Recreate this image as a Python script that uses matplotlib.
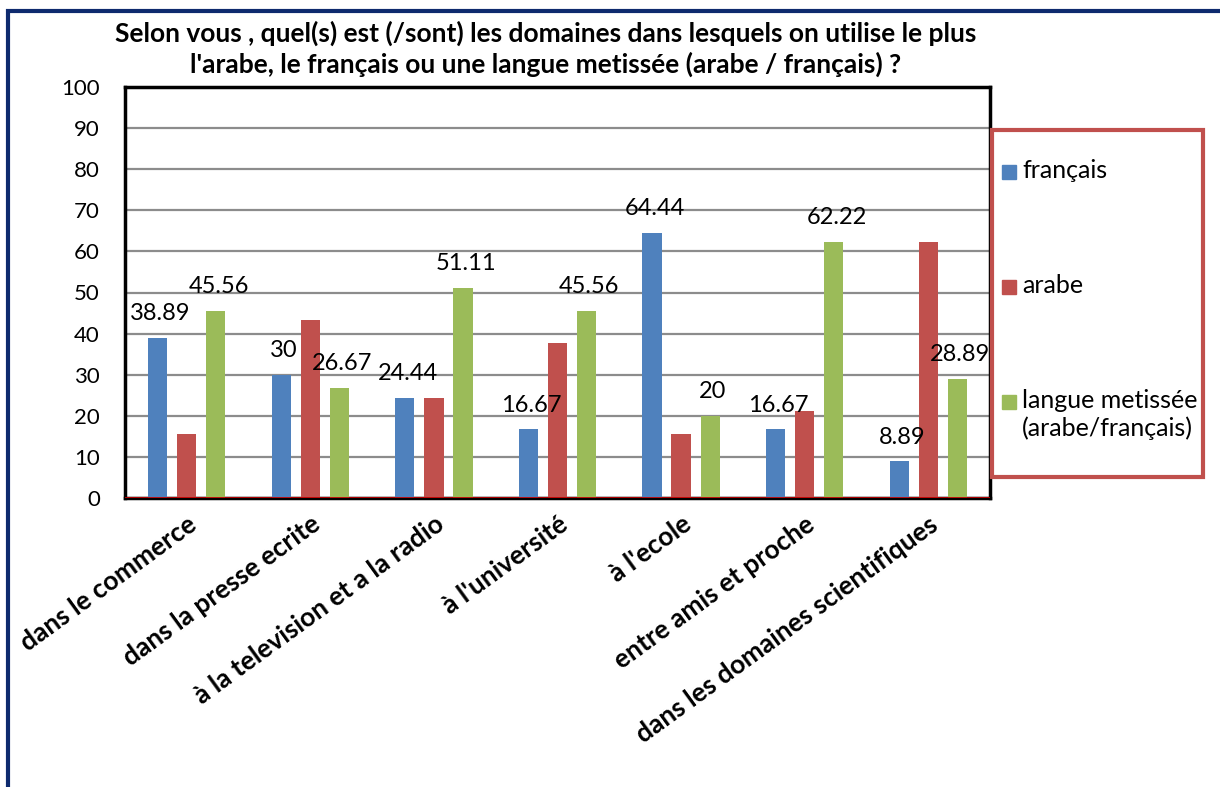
import matplotlib
matplotlib.use("Agg")
import matplotlib.pyplot as plt
from matplotlib.patches import Rectangle
import numpy as np

plt.rcParams['font.family'] = ['Lato', 'DejaVu Sans']

domaines = ['dans le commerce', 'dans la presse ecrite', 'à la television et a la radio',
            "à l'université", "à l'ecole", 'entre amis et proche',
            'dans les domaines scientifiques']
francais = [38.89, 30, 24.44, 16.67, 64.44, 16.67, 8.89]
arabe = [15.56, 43.33, 24.44, 37.78, 15.56, 21.11, 62.22]
metisse = [45.56, 26.67, 51.11, 45.56, 20, 62.22, 28.89]
series_noms = ['français', 'arabe', 'langue metissée\n(arabe/français)']
couleurs = ['#4F81BD', '#C0504D', '#9BBB59']

W, H = 1220, 787
fig = plt.figure(figsize=(W / 100, H / 100), dpi=100)


def fx(px):
    return px / W


def fy(py):
    return 1 - py / H


ax = fig.add_axes([fx(125), fy(498), 865 / W, 411 / H])

x = np.arange(len(domaines))
pas = 0.235
larg = 0.155
barres = []
for k, (vals, c) in enumerate(zip([francais, arabe, metisse], couleurs)):
    barres.append(ax.bar(x + (k - 1) * pas, vals, larg, color=c, zorder=3))

# étiquettes de valeurs seulement pour français et langue métissée
for b in (barres[0], barres[2]):
    for r in b:
        ax.annotate(f'{r.get_height():g}', (r.get_x() + r.get_width() / 2, r.get_height()),
                    xytext=(2, 10), textcoords='offset points', ha='center', va='bottom',
                    fontsize=17, zorder=4)

ax.set_xlim(-0.5, len(domaines) - 0.5)
ax.set_ylim(0, 100)
ax.set_yticks(np.arange(0, 101, 10))
ax.yaxis.grid(True, color='#8C8C8C', linewidth=1.6, zorder=0)
ax.set_axisbelow(True)
ax.tick_params(axis='y', labelsize=16, length=0, pad=18)
ax.tick_params(axis='x', length=0, pad=10)
ax.set_xticks(x)
ax.set_xticklabels(domaines, rotation=36, ha='right', va='top',
                   rotation_mode='anchor', fontsize=19, fontweight='bold')
for s in ax.spines.values():
    s.set_linewidth(2.5)
    s.set_color('black')
ax.axhline(0, color='#C00000', linewidth=2, zorder=5)

fig.text(fx(546), fy(49),
         "Selon vous , quel(s) est (/sont) les domaines dans lesquels on utilise le plus\n"
         "l'arabe, le français ou une langue metissée (arabe / français) ?",
         ha='center', va='center', fontsize=19, fontweight='bold', linespacing=1.25)

# légende dans son cadre rouge
fig.patches.append(Rectangle((fx(992), fy(477)), 211 / W, 347 / H,
                             transform=fig.transFigure, facecolor='white',
                             edgecolor='#C0504D', linewidth=3, zorder=2))
for nom, c, yc in zip(series_noms, couleurs, [172, 287, 402]):
    fig.patches.append(Rectangle((fx(1002), fy(yc + 7)), 14 / W, 14 / H,
                                 transform=fig.transFigure, color=c, zorder=3))
    fig.text(fx(1022), fy(yc - 13), nom, ha='left', va='top', fontsize=18,
             linespacing=1.25, zorder=3)

# cadre extérieur du graphique
fig.patches.append(Rectangle((fx(8), -0.05), 1.2, fy(11) + 0.05,
                             transform=fig.transFigure, fill=False,
                             edgecolor='#0E2A6E', linewidth=3))

fig.savefig('out.png', dpi=100)
